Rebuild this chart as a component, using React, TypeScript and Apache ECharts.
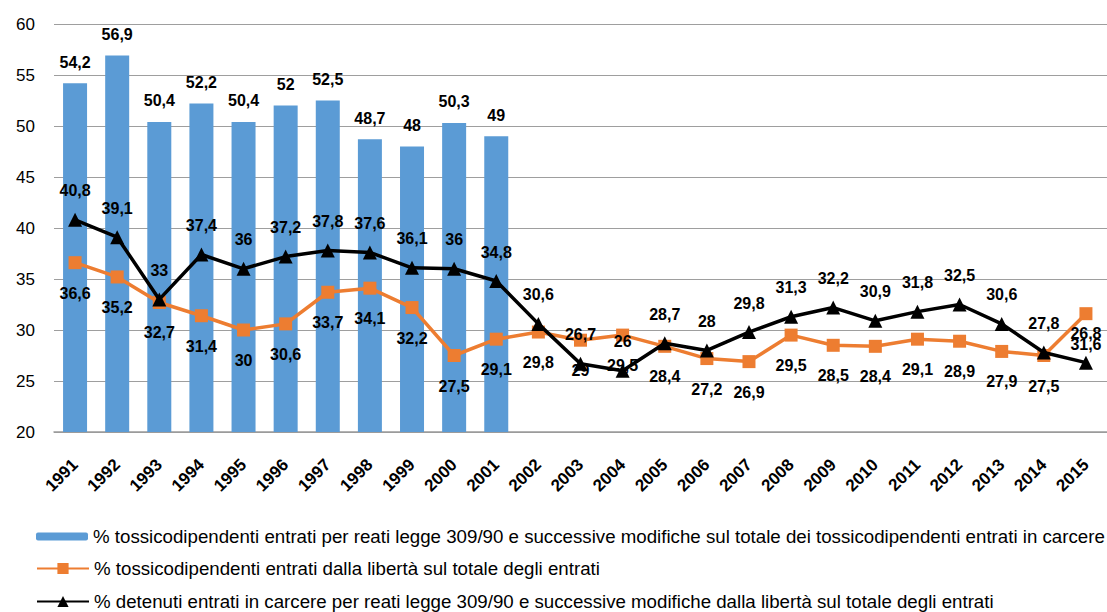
import React, { useEffect, useRef } from "react";
import * as echarts from "echarts";

const years = [
  "1991", "1992", "1993", "1994", "1995", "1996", "1997", "1998", "1999", "2000",
  "2001", "2002", "2003", "2004", "2005", "2006", "2007", "2008", "2009", "2010",
  "2011", "2012", "2013", "2014", "2015",
];

const barValues = [54.2, 56.9, 50.4, 52.2, 50.4, 52, 52.5, 48.7, 48, 50.3, 49];

const orangeValues = [
  36.6, 35.2, 32.7, 31.4, 30, 30.6, 33.7, 34.1, 32.2, 27.5,
  29.1, 29.8, 29, 29.5, 28.4, 27.2, 26.9, 29.5, 28.5, 28.4,
  29.1, 28.9, 27.9, 27.5, 31.6,
];

const blackValues = [
  40.8, 39.1, 33, 37.4, 36, 37.2, 37.8, 37.6, 36.1, 36,
  34.8, 30.6, 26.7, 26, 28.7, 28, 29.8, 31.3, 32.2, 30.9,
  31.8, 32.5, 30.6, 27.8, 26.8,
];

const seriesNames = [
  "% tossicodipendenti entrati per reati legge 309/90 e successive modifiche sul totale dei tossicodipendenti entrati in carcere",
  "% tossicodipendenti entrati dalla libertà sul totale degli entrati",
  "% detenuti entrati in carcere per reati legge 309/90 e successive modifiche dalla libertà sul totale degli entrati",
];

const FONT = "'Liberation Sans', Arial, sans-serif";
const fmt = (p: any) => String(p.value).replace(".", ",");

export default function App() {
  const ref = useRef<HTMLDivElement>(null);
  useEffect(() => {
    if (!ref.current) return;
    const chart = echarts.init(ref.current, null, { renderer: "svg" });
    const labelBase = {
      show: true,
      fontFamily: FONT,
      fontWeight: "bold" as const,
      fontSize: 16,
      color: "#000",
      formatter: fmt,
    };
    const legendText = { fontFamily: FONT, fontSize: 18.7, color: "#000" };
    const legendCenters = [537, 569, 602];
    const legendHeights = [8, 14, 14];
    chart.setOption({
      animation: false,
      textStyle: { fontFamily: FONT },
      grid: { left: 54, right: 0, top: 24, bottom: 180, containLabel: false },
      legend: seriesNames.map((n, i) => ({
        orient: "horizontal",
        left: 36,
        top: legendCenters[i] - 10,
        padding: 0,
        itemWidth: 52,
        itemHeight: legendHeights[i],
        itemGap: 0,
        textStyle: legendText,
        data: [n],
      })),
      xAxis: {
        type: "category",
        data: years,
        axisTick: { show: false },
        axisLine: { lineStyle: { color: "#9a9a9a", width: 1.5 } },
        axisLabel: {
          rotate: 45,
          margin: 30,
          fontFamily: FONT,
          fontWeight: "bold",
          fontSize: 17,
          color: "#000",
          interval: 0,
        },
      },
      yAxis: {
        type: "value",
        min: 20,
        max: 60,
        interval: 5,
        axisLine: { show: false },
        axisTick: { show: false },
        splitLine: { lineStyle: { color: "#9e9e9e", width: 1.2 } },
        axisLabel: { fontFamily: FONT, fontSize: 17, color: "#000", margin: 19 },
      },
      series: [
        {
          name: seriesNames[0],
          type: "bar",
          data: barValues,
          barWidth: 24,
          itemStyle: { color: "#5B9BD5" },
          label: { ...labelBase, position: "top", distance: 13 },
        },
        {
          name: seriesNames[1],
          type: "line",
          data: orangeValues,
          symbol: "rect",
          symbolSize: 13,
          lineStyle: { color: "#ED7D31", width: 3.5 },
          itemStyle: { color: "#ED7D31" },
          label: { ...labelBase, position: "bottom", distance: 16 },
          z: 3,
        },
        {
          name: seriesNames[2],
          type: "line",
          data: blackValues,
          symbol: "triangle",
          symbolSize: 14,
          lineStyle: { color: "#000", width: 3.5 },
          itemStyle: { color: "#000" },
          label: { ...labelBase, position: "top", distance: 14 },
          z: 4,
        },
      ],
    });
    return () => chart.dispose();
  }, []);
  return (
    <div
      ref={ref}
      style={{ position: "absolute", left: 0, top: 0, width: 1107, height: 612, background: "#fff" }}
    />
  );
}
